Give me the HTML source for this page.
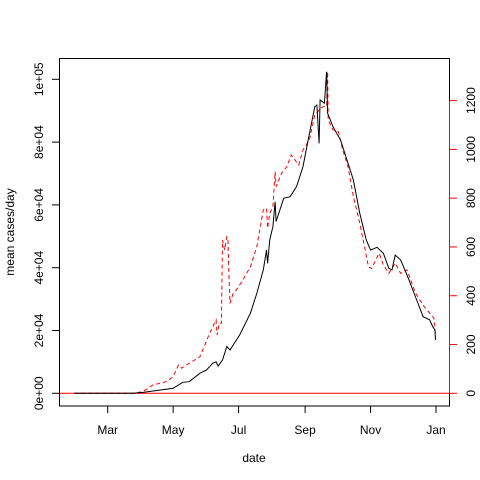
<!DOCTYPE html>
<html><head><meta charset="utf-8"><style>
body{margin:0;background:#fff}
svg{display:block;font-family:"Liberation Sans",sans-serif}
</style></head><body>
<svg id="chart" width="480" height="480" viewBox="0 0 480 480" xmlns="http://www.w3.org/2000/svg">
<rect width="480" height="480" fill="#fff"/>
<g id="g"></g>
</svg>
<script>
// Data (day-of-year 2020, value)
const caseDays=[29,84,93,121,130,136,146,152,158,161,163,167,171,174,183,193,199,205,208,209,211,214,216,217,224,230,236,242,245,253,255,257,258,262,264,265,270,277,283,289,295,301,305,311,317,322,325,328,333,339,348,354,360,363,365,365.5];
const caseVals=[0,0,300,1600,3500,3700,6400,7400,9600,10000,8700,10600,14900,13800,18600,25500,31800,39300,45600,41400,48800,53100,61000,54700,62100,62600,65800,72200,77500,91300,91800,79600,93400,92400,102400,89200,84900,80700,74300,67900,57300,48800,45600,46500,44600,39800,39300,44000,42500,37700,29700,24400,23400,21200,20200,17000];
const deathDays=[29,84,93,102,115,121,126,129,136,146,155,161,162,164,166,167,169,171,172,173,174,177,180,186,193,199,205,208,209,211,214,216,217,222,227,231,238,242,248,253,256,258,261,264,265,265.5,270,275,279,284,289,295,300,303,306,313,317,322,328,333,339,347,355,364,365,365.5];
const deathVals=[0,0,7,34,48,68,116,103,123,150,246,301,239,287,287,629,588,642,636,492,369,410,424,465,519,601,752,759,677,738,765,909,847,902,929,977,936,998,1039,1141,1155,1169,1175,1175,1319,1121,1080,1073,998,929,806,697,588,519,512,574,526,492,533,492,506,410,355,308,273,226];
const leftTicks=[0,20000,40000,60000,80000,100000];
const leftLabels=["0e+00","2e+04","4e+04","6e+04","8e+04","1e+05"];
const rightTicks=[0,200,400,600,800,1000,1200];
const monthDays=[60,121,182,244,305,366];
const monthLabels=["Mar","May","Jul","Sep","Nov","Jan"];

const X=d=>107.7+(d-60)*1.0729;
const YL=v=>393.3-v*(314/100000);
const YR=v=>393.3-v*(292.7/1200);
const NS="http://www.w3.org/2000/svg";
const g=document.getElementById('g');
function mk(t,a,txt){const e=document.createElementNS(NS,t);for(const k in a)e.setAttribute(k,a[k]);if(txt!=null)e.textContent=txt;g.appendChild(e);return e;}

// plot box
let e=mk('rect',{x:59.5,y:58.5,width:390,height:347.5,fill:'none',stroke:'#000','stroke-width':1});



// zero line
e=mk('line',{x1:59.5,x2:449.5,y1:YR(0),y2:YR(0),stroke:'#ff0000','stroke-width':1});



// left axis
e=mk('line',{x1:59.5,x2:59.5,y1:YL(0),y2:YL(100000),stroke:'#000'});


leftTicks.forEach((v,i)=>{
  let t=mk('line',{x1:52,x2:59.5,y1:YL(v),y2:YL(v),stroke:'#000'});
  
  
  let l=mk('text',{x:0,y:0,'font-size':12,'text-anchor':'middle',transform:`translate(43,${YL(v)}) rotate(-90)`},leftLabels[i]);
  
  
});
// right axis
e=mk('line',{x1:449.5,x2:449.5,y1:YR(0),y2:YR(1200),stroke:'#ff0000'});


rightTicks.forEach(v=>{
  let t=mk('line',{x1:449.5,x2:457,y1:YR(v),y2:YR(v),stroke:'#ff0000'});
  
  
  let l=mk('text',{x:0,y:0,'font-size':12,'text-anchor':'middle',transform:`translate(475,${YR(v)}) rotate(-90)`},String(v));
  
  
});
// x axis
e=mk('line',{x1:X(60),x2:X(366),y1:406,y2:406,stroke:'#000'});


monthDays.forEach((d,i)=>{
  let t=mk('line',{x1:X(d),x2:X(d),y1:406,y2:413,stroke:'#000'});
  
  
  let l=mk('text',{x:X(d),y:434,'font-size':12,'text-anchor':'middle'},monthLabels[i]);
  
  
});
e=mk('text',{x:254,y:462,'font-size':12,'text-anchor':'middle'},'date');


e=mk('text',{x:0,y:0,'font-size':12,'text-anchor':'middle',transform:'translate(14,232) rotate(-90)'},'mean cases/day');



// series
e=mk('polyline',{points:deathDays.map((d,i)=>X(d).toFixed(1)+','+YR(deathVals[i]).toFixed(1)).join(' '),fill:'none',stroke:'#ff0000','stroke-width':1,'stroke-dasharray':'4,3'});


e=mk('polyline',{points:caseDays.map((d,i)=>X(d).toFixed(1)+','+YL(caseVals[i]).toFixed(1)).join(' '),fill:'none',stroke:'#000','stroke-width':1});


</script>
</body></html>
